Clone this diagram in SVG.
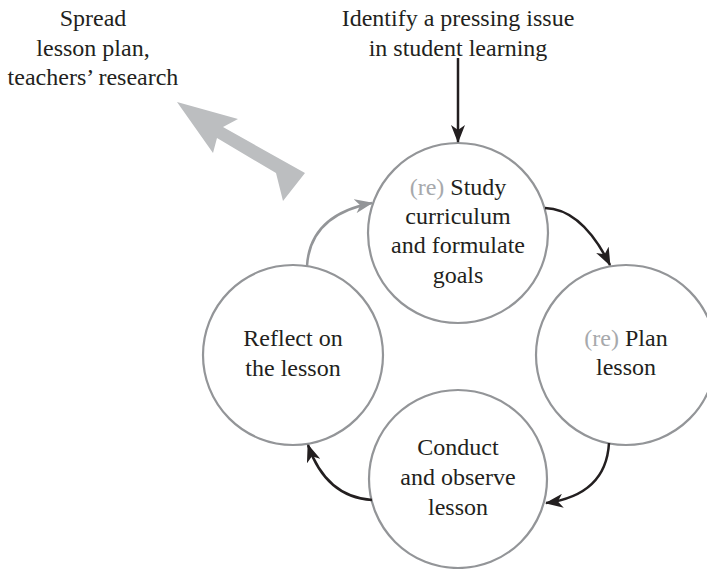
<svg xmlns="http://www.w3.org/2000/svg" width="707" height="569" viewBox="0 0 707 569">
<defs>
<style>
.c{fill:#fff;stroke:#939598;stroke-width:2.2}
.t{font-family:"Liberation Serif",serif;font-size:24px;fill:#231f20;text-anchor:middle}
.re{fill:#a7a9ac}
.k{fill:none;stroke:#231f20;stroke-width:2.5}
.g{fill:none;stroke:#939598;stroke-width:2.5}
</style>
<marker id="ak" viewBox="0 0 18 14" refX="17" refY="7" markerWidth="18" markerHeight="14" markerUnits="userSpaceOnUse" orient="auto"><path d="M0,0 L18,7 L0,14 L5,7 Z" fill="#231f20"/></marker>
<marker id="ag" viewBox="0 0 18 14" refX="17" refY="7" markerWidth="18" markerHeight="14" markerUnits="userSpaceOnUse" orient="auto"><path d="M0,0 L18,7 L0,14 L5,7 Z" fill="#939598"/></marker>
</defs>
<g id="spread"><text class="t" x="93" y="26">Spread</text><text class="t" x="93" y="56">lesson plan,</text><text class="t" x="93" y="85">teachers’ research</text></g>
<g id="identify"><text class="t" x="458" y="26">Identify a pressing issue</text><text class="t" x="458" y="56">in student learning</text></g>
<g id="study"><circle class="c" cx="458" cy="233" r="90"/><text class="t" x="458" y="195"><tspan class="re">(re)</tspan> Study</text><text class="t" x="458" y="224">curriculum</text><text class="t" x="458" y="253">and formulate</text><text class="t" x="458" y="283">goals</text></g>
<g id="plan"><circle class="c" cx="626" cy="355" r="90"/><text class="t" x="626" y="346"><tspan class="re">(re)</tspan> Plan</text><text class="t" x="626" y="375">lesson</text></g>
<g id="conduct"><circle class="c" cx="458" cy="479" r="89"/><text class="t" x="458" y="455">Conduct</text><text class="t" x="458" y="485">and observe</text><text class="t" x="458" y="515">lesson</text></g>
<g id="reflect"><circle class="c" cx="293" cy="355" r="90"/><text class="t" x="293" y="346">Reflect on</text><text class="t" x="293" y="376">the lesson</text></g>
<g id="connectors">
<path d="M177,102 L238,119 L223,127 L305,173 L283,201 L276,173 L217,138 L213,153 Z" fill="#bcbec0"/>
<line class="k" x1="458" y1="58" x2="458" y2="142" marker-end="url(#ak)"/>
<path class="k" d="M545,208 Q582,209 610,265" marker-end="url(#ak)"/>
<path class="k" d="M609,443 Q606,495 546,503" marker-end="url(#ak)"/>
<path class="k" d="M372,500 Q326,497 308,445" marker-end="url(#ak)"/>
<path class="g" d="M307,266 Q310,215 372,203" marker-end="url(#ag)"/>
</g>
</svg>
